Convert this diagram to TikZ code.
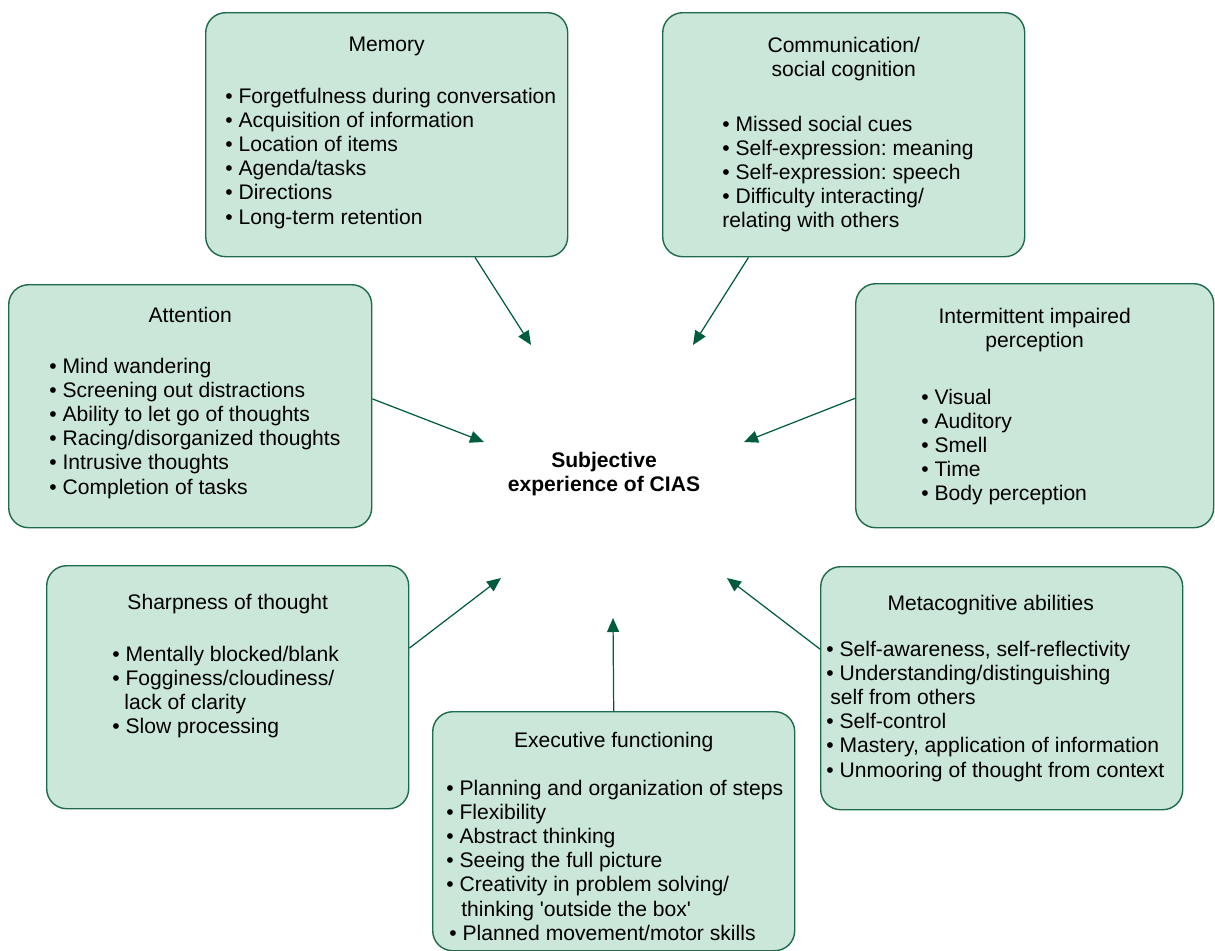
\documentclass[tikz,border=0pt]{standalone}
\usepackage{fontspec}
\setmainfont{Liberation Sans}
\usepackage{tikz}
\usetikzlibrary{calc, positioning, arrows.meta}
\frenchspacing
\definecolor{boxfill}{HTML}{CBE7DA}
\definecolor{boxline}{HTML}{1E6B4B}
\definecolor{arrowgreen}{HTML}{005C3C}
\tikzstyle{box} = [rectangle, rounded corners=0.4cm, draw=boxline, line width=0.8pt, fill=boxfill, anchor=north west, minimum width=7.24cm, minimum height=4.86cm, inner sep=0pt]
\tikzstyle{title} = [anchor=north, align=center, inner sep=0pt]
\tikzstyle{items} = [anchor=north west, align=left, inner sep=0pt]
\tikzstyle{arrow} = [draw=arrowgreen, line width=0.7pt, -{Triangle[length=0.28cm, width=0.24cm]}]

\begin{document}
\begin{tikzpicture}[node distance = 10mm, font=\fontsize{12}{13.7}\selectfont]
	\useasboundingbox (0,0) rectangle (24.3,-19.02);

	% boxes
	\node (Memory) [box, minimum height=4.88cm] at (4.1,-0.24) {};
	\node (Communication) [box, minimum height=4.88cm] at (13.24,-0.24) {};
	\node (Attention) [box, minimum width=7.26cm] at (0.16,-5.68) {};
	\node (Perception) [box, minimum width=7.16cm, minimum height=4.88cm] at (17.1,-5.66) {};
	\node (Sharpness) [box] at (0.92,-11.3) {};
	\node (Metacognitive) [box] at (16.4,-11.32) {};
	\node (Executive) [box, minimum height=4.78cm] at (8.64,-14.22) {};

	% titles
	\node (MemoryTitle) [title, below=0.5cm of Memory.north] {Memory};
	\node (CommunicationTitle) [title, below=0.5cm of Communication.north] {Communication/\\social cognition};
	\node (AttentionTitle) [title, below=0.46cm of Attention.north] {Attention};
	\node (PerceptionTitle) [title, below=0.5cm of Perception.north] {Intermittent impaired\\perception};
	\node (SharpnessTitle) [title, below=0.58cm of Sharpness.north] {Sharpness of thought};
	\node (MetacognitiveTitle) [title, below=0.58cm of Metacognitive.north, xshift=-0.22cm] {Metacognitive abilities};
	\node (ExecutiveTitle) [title, below=0.42cm of Executive.north] {Executive functioning};

	% lists
	\node (MemoryList) [items, below right=1.52cm and 0.4cm of Memory.north west] {%
		• Forgetfulness during conversation\\
		• Acquisition of information\\
		• Location of items\\
		• Agenda/tasks\\
		• Directions\\
		• Long-term retention};
	\node (CommunicationList) [items, below right=2.08cm and 1.2cm of Communication.north west] {%
		• Missed social cues\\
		• Self-expression: meaning\\
		• Self-expression: speech\\
		• Difficulty interacting/\\
		relating with others};
	\node (AttentionList) [items, below right=1.48cm and 0.82cm of Attention.north west] {%
		• Mind wandering\\
		• Screening out distractions\\
		• Ability to let go of thoughts\\
		• Racing/disorganized thoughts\\
		• Intrusive thoughts\\
		• Completion of tasks};
	\node (PerceptionList) [items, below right=2.12cm and 1.32cm of Perception.north west] {%
		• Visual\\
		• Auditory\\
		• Smell\\
		• Time\\
		• Body perception};
	\node (SharpnessList) [items, below right=1.62cm and 1.32cm of Sharpness.north west] {%
		• Mentally blocked/blank\\
		• Fogginess/cloudiness/\\
		\hspace{0.24cm}lack of clarity\\
		• Slow processing};
	\node (MetacognitiveList) [items, below right=1.5cm and 0.12cm of Metacognitive.north west] {%
		• Self-awareness, self-reflectivity\\
		• Understanding/distinguishing\\
		\hspace{0.08cm}self from others\\
		• Self-control\\
		• Mastery, application of information\\
		• Unmooring of thought from context};
	\node (ExecutiveList) [items, below right=1.38cm and 0.28cm of Executive.north west] {%
		• Planning and organization of steps\\
		• Flexibility\\
		• Abstract thinking\\
		• Seeing the full picture\\
		• Creativity in problem solving/\\
		\hspace{0.3cm}thinking \textquotesingle outside the box\textquotesingle\\
		\hspace{0.06cm}• Planned movement/motor skills};

	% centre
	\node (Centre) [align=center, font=\fontsize{12}{13.7}\selectfont\bfseries] at (12.08,-9.48) {Subjective\\experience of CIAS};

	% arrow ends
	\coordinate (MemoryEnd) at (10.62,-6.9);
	\coordinate (CommunicationEnd) at (13.86,-6.9);
	\coordinate (AttentionEnd) at (9.68,-8.84);
	\coordinate (PerceptionEnd) at (14.88,-8.84);
	\coordinate (SharpnessEnd) at (10.02,-11.56);
	\coordinate (MetacognitiveEnd) at (14.54,-11.56);
	\coordinate (ExecutiveEnd) at (12.26,-12.36);

	% arrows
	\draw [arrow] ($(Memory.south west)!0.743!(Memory.south east)$) -- (MemoryEnd);
	\draw [arrow] ($(Communication.south west)!0.238!(Communication.south east)$) -- (CommunicationEnd);
	\draw [arrow] ($(Attention.north east)!0.47!(Attention.south east)$) -- (AttentionEnd);
	\draw [arrow] ($(Perception.north west)!0.47!(Perception.south west)$) -- (PerceptionEnd);
	\draw [arrow] ($(Sharpness.north east)!0.34!(Sharpness.south east)$) -- (SharpnessEnd);
	\draw [arrow] ($(Metacognitive.north west)!0.34!(Metacognitive.south west)$) -- (MetacognitiveEnd);
	\draw [arrow] (Executive.north) -- (ExecutiveEnd);
\end{tikzpicture}
\end{document}
